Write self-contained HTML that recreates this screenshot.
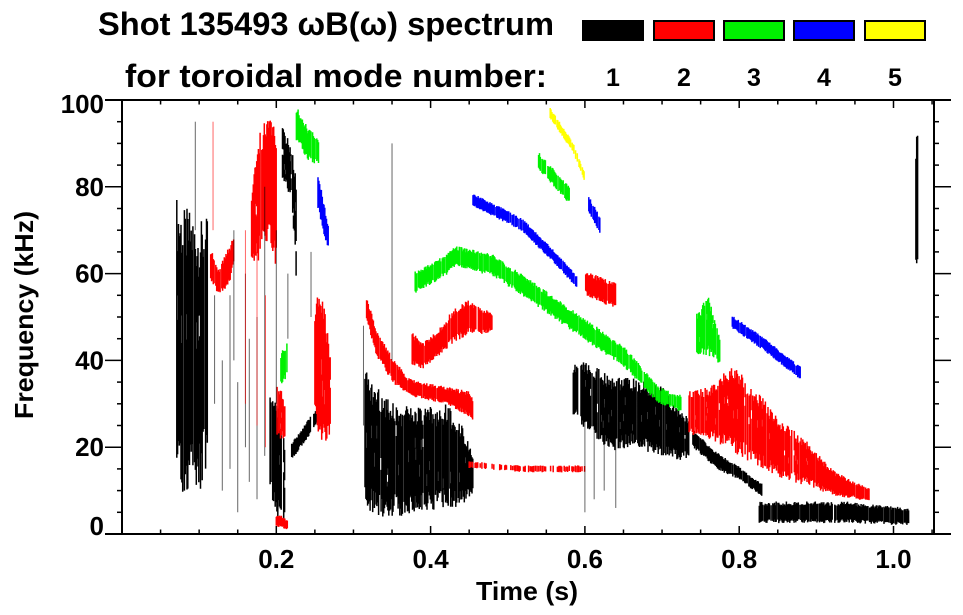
<!DOCTYPE html>
<html><head><meta charset="utf-8">
<style>
html,body{margin:0;padding:0;background:#fff;}
svg{display:block;font-family:"Liberation Sans",Arial,sans-serif;font-weight:bold;}
</style></head>
<body>
<svg id="chart" width="963" height="615" viewBox="0 0 963 615" xmlns="http://www.w3.org/2000/svg">
  <text x="326" y="35" font-size="32" text-anchor="middle" textLength="456" lengthAdjust="spacingAndGlyphs">Shot 135493 ωB(ω) spectrum</text>
  <text x="336" y="87" font-size="32" text-anchor="middle" textLength="422" lengthAdjust="spacingAndGlyphs">for toroidal mode number:</text>
  <g id="legend"></g>
  <g id="marks"></g>
  <g id="axes"></g>
  <text x="527" y="600" font-size="26" text-anchor="middle" textLength="102" lengthAdjust="spacingAndGlyphs">Time (s)</text>
  <text transform="translate(33,315) rotate(-90)" font-size="26" text-anchor="middle" textLength="208" lengthAdjust="spacingAndGlyphs">Frequency (kHz)</text>
</svg>
<script>
// ---- data ----
const modeLabels = ["1","2","3","4","5"];
const modeColors = ["#000000","#ff0000","#00f000","#0000ff","#ffff00"];
const xTicks = [0.2,0.4,0.6,0.8,1.0];
const xTickLabels = ["0.2","0.4","0.6","0.8","1.0"];
const yTicks = [0,20,40,60,80,100];
const yTickLabels = ["0","20","40","60","80","100"];

// ridges: mode index, times (s), center freqs (kHz), half-widths (kHz)
const ridgeModes = [0,0,0,0,0,0,0,0,0, 1,1,1,1,1,1,1,1,1,1, 2,2,2,2,2, 3,3,3,3, 4];
const ridgeTimes = [
 [0.071,0.08,0.088,0.1,0.111],
 [0.192,0.2,0.211],
 [0.208,0.22,0.226],
 [0.22,0.24,0.26],
 [0.315,0.33,0.36,0.39,0.42,0.44,0.455],
 [0.585,0.6,0.63,0.66,0.7,0.72,0.735],
 [0.74,0.77,0.8,0.83],
 [0.826,0.88,0.94,1.02],
 [1.029,1.032],
 [0.115,0.125,0.14,0.145],
 [0.168,0.178,0.19,0.2],
 [0.2,0.205,0.212],
 [0.25,0.26,0.27],
 [0.317,0.33,0.35,0.37,0.39,0.42,0.45,0.455],
 [0.375,0.39,0.41,0.43,0.45,0.47,0.48],
 [0.45,0.52,0.6],
 [0.735,0.76,0.79,0.82,0.85,0.89,0.92,0.95,0.97],
 [0.6,0.61,0.64],
 [0.2,0.205,0.215],
 [0.38,0.42,0.43,0.48,0.53,0.585,0.65,0.695,0.725],
 [0.54,0.56,0.58],
 [0.225,0.24,0.255],
 [0.206,0.214],
 [0.745,0.76,0.775],
 [0.455,0.5,0.52,0.565,0.59],
 [0.253,0.26,0.268],
 [0.79,0.83,0.88],
 [0.605,0.62],
 [0.555,0.585,0.6]
];
const ridgeFreqs = [
 [45,42,42,40,45],
 [22,18,12],
 [88,83,70],
 [19,24,29],
 [22,19,17,17,18,16,14],
 [33,32,28,28,26,23,22],
 [22,17,14,10],
 [5,5,5,4],
 [76,76],
 [62,58,62,66],
 [70,78,82,78],
 [28,28,26],
 [40,38,33],
 [52,44,38,34,33,32,30,28],
 [43,41,44,48,50,49,49],
 [16,15,15],
 [28,28,29,25,20,16,12,10,9],
 [58,57,55],
 [3,3,2],
 [58,62,64,62,56,49,41,32,30],
 [86,82,78],
 [95,90,88],
 [38,40],
 [46,48,42],
 [77,73,71,63,58],
 [80,74,68],
 [49,44,37],
 [76,71],
 [97,89,82]
];
const ridgeWidths = [
 [33,33,33,32,28],
 [14,15,10],
 [6,6,12],
 [2,2,2],
 [16,15,13,12,12,10,5],
 [6,8,9,8,8,6,5],
 [2,2,1.5,1.5],
 [2.5,2.5,2.5,2],
 [16,16],
 [4,3,5,3],
 [8,15,15,18],
 [6,6,4],
 [15,18,10],
 [3,3,3,2,2,2,3,3],
 [4,3,3,4,4,3,2],
 [0.8,0.8,0.8],
 [5,6,10,9,7,5,3,2,1.5],
 [3,3,3],
 [1.5,1.5,1],
 [2.5,2.5,2.5,2.5,2.5,2.5,2.5,2,2],
 [2,2,2],
 [4,4,3],
 [4,4],
 [5,7,3],
 [1.5,1.5,1.5,1.5,1.5],
 [4,4,3],
 [1.5,1.5,1.5],
 [2,2],
 [1.2,1.2,1.2]
];
// sparse vertical streaks (mode, time, low freq, high freq)
const streakModes = [0,0,0,0,0,0,0,0,0,0,0,0,1,1,1,1,0,0,0,0,0,0,0];
const streakTimes = [0.13,0.14,0.15,0.16,0.165,0.175,0.185,0.12,0.145,0.095,0.35,0.313,0.16,0.175,0.186,0.118,0.6,0.612,0.625,0.64,0.2,0.215,0.245];
const streakLo = [10,15,5,20,12,8,18,30,40,70,40,25,30,25,20,70,5,8,10,6,30,45,50];
const streakHi = [40,55,35,60,45,50,80,55,70,95,90,48,70,65,55,95,30,35,30,25,70,60,65];

// ---- scales ----
const X0=122, X1=934, Y0=534, Y1=100;
const tMax = (X1-X0)/771.5;
function xs(t){ return X0 + t*771.5; }
function ys(f){ return Y0 - (f/100)*(Y0-Y1); }

const NS="http://www.w3.org/2000/svg";
const marks=document.getElementById('marks');
const axes=document.getElementById('axes');
const legend=document.getElementById('legend');
function mk(tag,attrs,parent){const e=document.createElementNS(NS,tag);for(const k in attrs)e.setAttribute(k,attrs[k]);parent.appendChild(e);return e;}
function interp(ts,vs,t){ if(t<=ts[0])return vs[0]; for(let i=1;i<ts.length;i++){ if(t<=ts[i]){const r=(t-ts[i-1])/(ts[i]-ts[i-1]);return vs[i-1]+r*(vs[i]-vs[i-1]);}} return vs[vs.length-1]; }
function jit(n){ const s=Math.sin(n*12.9898)*43758.5453; return s-Math.floor(s); }

// ridges (ragged texture)
ridgeModes.forEach((m,ri)=>{
  const ts=ridgeTimes[ri], fs=ridgeFreqs[ri], ws=ridgeWidths[ri];
  const g=mk('g',{},marks);
  
  
  let d='';
  const step=0.0011;
  let k=0;
  const thin = Math.max(...ws) < 1;
  for(let t=ts[0]; t<=ts[ts.length-1]+1e-9; t+=step){
    k++;
    const f=interp(ts,fs,t), w=interp(ts,ws,t);
    const skip = jit(ri*777+k*3);
    if(thin ? skip<0.45 : skip<0.08) continue;
    const x=xs(t).toFixed(1);
    const a=0.6+0.4*jit(ri*1000+k), b=0.6+0.4*jit(ri*1000+k+500);
    let y1=ys(f+w*a), y2=ys(f-w*b);
    if(y2-y1<1.6){const c=(y1+y2)/2;y1=c-0.9;y2=c+0.9;}
    if(w>5 && jit(ri*31+k)<0.25){
      const gy=y1+(y2-y1)*(0.25+0.5*jit(ri*57+k));
      const gh=(y2-y1)*0.06;
      d+='M'+x+' '+y1.toFixed(1)+'V'+(gy-gh).toFixed(1)+'M'+x+' '+(gy+gh).toFixed(1)+'V'+y2.toFixed(1);
    } else {
      d+='M'+x+' '+y1.toFixed(1)+'V'+y2.toFixed(1);
    }
  }
  mk('path',{d:d,stroke:modeColors[m],'stroke-width':1.5,fill:'none'},g);
});
// streaks
streakModes.forEach((m,i)=>{
  const p=mk('line',{x1:xs(streakTimes[i]),x2:xs(streakTimes[i]),y1:ys(streakHi[i]),y2:ys(streakLo[i]),stroke:modeColors[m],'stroke-width':1,'stroke-opacity':0.6},marks);
  
  
});

// axes frame
[[105,Y1,951,Y1],[105,Y0,951,Y0],[X0,Y1,X0,Y0],[X1,Y1,X1,Y0]].forEach((l,i)=>{
  const e=mk('line',{x1:l[0],y1:l[1],x2:l[2],y2:l[3],stroke:'#000','stroke-width':2},axes);
  
  
});
for(let i=1;i*0.05<tMax;i++){
  const t=i*0.05, x=xs(t), major=(i%4===0);
  const L=major?8:4.5;
  mk('line',{x1:x,x2:x,y1:Y0,y2:Y0-L,stroke:'#000','stroke-width':1.5},axes);
  mk('line',{x1:x,x2:x,y1:Y1,y2:Y1+L,stroke:'#000','stroke-width':1.5},axes);
}
xTicks.forEach((t,i)=>{
  const e=mk('text',{x:xs(t),y:568,'font-size':26,'text-anchor':'middle'},axes);
  e.textContent=xTickLabels[i];
  
  
});
for(let f=5;f<100;f+=5){
  const y=ys(f), major=(f%20===0);
  const L=major?17:5;
  mk('line',{x1:X0-L,x2:X0,y1:y,y2:y,stroke:'#000','stroke-width':1.5},axes);
  mk('line',{x1:X1,x2:X1+L,y1:y,y2:y,stroke:'#000','stroke-width':1.5},axes);
}
yTicks.forEach((f,i)=>{
  let y=ys(f)+9;
  if(f===0) y=ys(f)+1;
  if(f===100) y=ys(f)+13;
  const e=mk('text',{x:104,y:y,'font-size':26,'text-anchor':'end'},axes);
  e.textContent=yTickLabels[i];
  
  
});
// legend
const legX=[582,653,723,793,864];
modeLabels.forEach((lab,i)=>{
  const g=mk('g',{},legend);
  
  
  mk('rect',{x:legX[i]+1,y:21,width:60,height:19,fill:modeColors[i],stroke:'#000','stroke-width':2},g);
  const t=mk('text',{x:legX[i]+31,y:86,'font-size':25,'text-anchor':'middle'},g);
  t.textContent=lab;
});
</script>
</body></html>
